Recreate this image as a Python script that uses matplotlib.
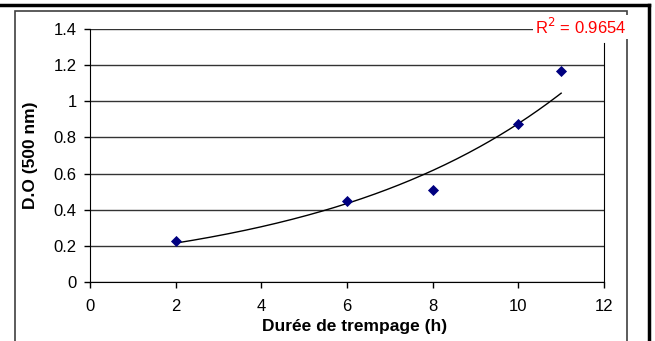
import matplotlib.pyplot as plt
import numpy as np
from matplotlib.lines import Line2D
from matplotlib.patches import Rectangle

plt.rcParams['font.family'] = ['Liberation Sans', 'DejaVu Sans']

# data
duree = np.array([2, 6, 8, 10, 11])
do_500 = np.array([0.225, 0.45, 0.51, 0.875, 1.17])
x_ticks = [0, 2, 4, 6, 8, 10, 12]
y_ticks = [0, 0.2, 0.4, 0.6, 0.8, 1, 1.2, 1.4]
y_ticklabels = ['0', '0.2', '0.4', '0.6', '0.8', '1', '1.2', '1.4']
r2_text = 'R$^2$ = 0.9654'

W, H = 655, 341
fig = plt.figure(figsize=(W / 100, H / 100), dpi=100)
fig.patch.set_facecolor('white')

# outer frame pieces (thick top + right) and inner thin box
fig.add_artist(Line2D([0, 649 / W], [1 - 5 / H, 1 - 5 / H], color='black', lw=2.5,
                      transform=fig.transFigure))
fig.add_artist(Line2D([649 / W, 649 / W], [0, 1 - 5 / H], color='black', lw=2.5,
                      transform=fig.transFigure))
fig.add_artist(Rectangle((15 / W, -0.05), (627 - 15) / W, 1.05 - 11 / H, fill=False,
                         edgecolor='#404040', lw=1.2, transform=fig.transFigure))

ax = fig.add_axes([90 / W, 1 - 282 / H, (604 - 90) / W, (282 - 29) / H])
ax.set_xlim(0, 12)
ax.set_ylim(0, 1.4)

# exponential trendline (Excel style), fitted on log values
b, lna = np.polyfit(duree, np.log(do_500), 1)
xs = np.linspace(duree.min(), duree.max(), 200)
ax.plot(xs, np.exp(lna) * np.exp(b * xs), color='black', lw=1.0, zorder=3)

ax.scatter(duree, do_500, marker='D', s=32, color='#000080', zorder=4, linewidths=0)

ax.set_yticks(y_ticks)
ax.set_yticklabels(y_ticklabels)
ax.set_xticks(x_ticks)
ax.grid(axis='y', color='#333333', lw=1.0)
ax.set_axisbelow(True)
ax.spines['top'].set_visible(False)
ax.spines['right'].set_color('black')
ax.spines['right'].set_bounds(0, 1.32)
ax.spines['left'].set_color('black')
ax.spines['bottom'].set_color('black')
ax.tick_params(axis='both', labelsize=12, color='black', length=4.5, width=1, direction='out')
ax.tick_params(axis='x', pad=8)
ax.tick_params(axis='y', pad=5)

ax.set_xlabel('Durée de trempage (h)', fontsize=12.5, fontweight='bold')
ax.set_ylabel('D.O (500 nm)', fontsize=12.5, fontweight='bold')
ax.xaxis.set_label_coords((355 - 90) / 514, -(326 - 282) / 253)
ax.yaxis.set_label_coords(-(90 - 31) / 514, (282 - 155) / 253)
ax.xaxis.label.set_va('center')
ax.yaxis.label.set_va('center')

fig.text(581 / W, 1 - 27 / H, r2_text, color='red', fontsize=12, ha='center', va='center',
         bbox=dict(facecolor='white', edgecolor='none', pad=1.5))

fig.savefig('out.png', dpi=100)
